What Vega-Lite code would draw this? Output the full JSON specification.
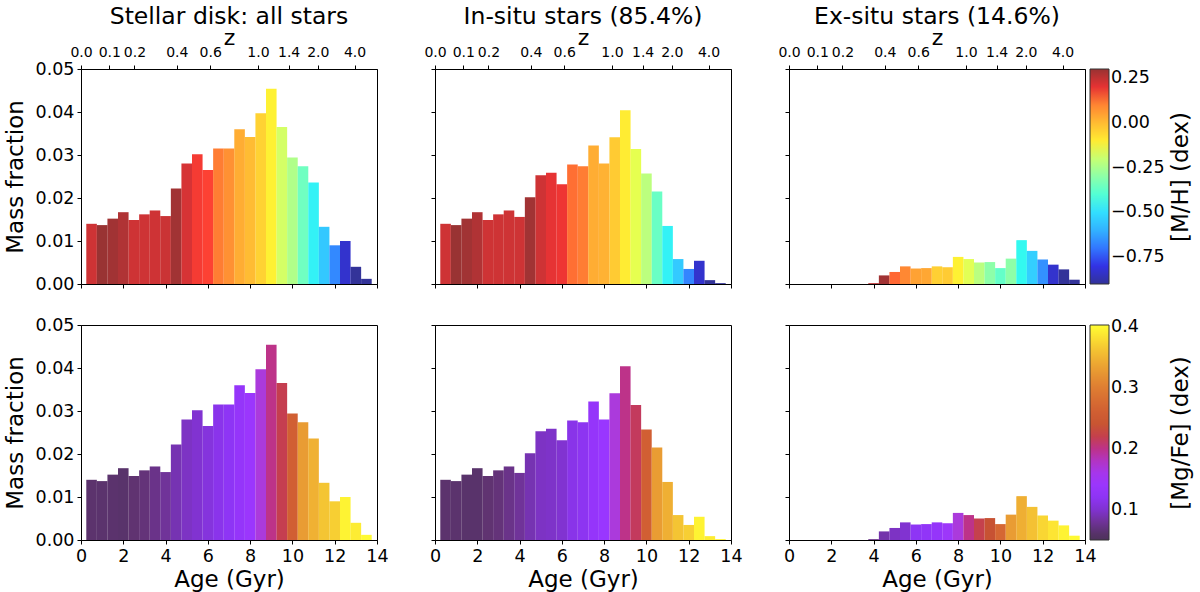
{
  "$schema": "https://vega.github.io/schema/vega-lite/v6.json",
  "padding": {"left": 3, "top": 4, "right": 2, "bottom": 2},
  "background": "white",
  "config": {
    "font": "DejaVu Sans",
    "view": {"stroke": "#000", "strokeWidth": 1},
    "axis": {
      "labelFont": "DejaVu Sans", "titleFont": "DejaVu Sans",
      "labelFontSize": 17.5, "titleFontSize": 23, "titleFontWeight": "normal",
      "labelColor": "#000", "titleColor": "#000", "tickColor": "#000", "domainColor": "#000",
      "tickSize": 4, "labelPadding": 3, "grid": false, "labelFlush": false, "labelOverlap": false
    },
    "title": {"font": "DejaVu Sans", "fontSize": 23.5, "fontWeight": "normal", "color": "#000", "offset": -2},
    "legend": {
      "orient": "right", "direction": "vertical", "offset": -103,
      "gradientLength": 215, "gradientThickness": 19,
      "gradientStrokeColor": "#000", "gradientStrokeWidth": 1,
      "labelFont": "DejaVu Sans", "labelFontSize": 17.5, "labelColor": "#000", "labelOffset": 9,
      "labelOverlap": false
    }
  },
  "data": {
    "values": [
      {"p": "all", "lo": 0.25, "hi": 0.75, "frac": 0.0140, "mh": 0.23, "mgfe": 0.064},
      {"p": "all", "lo": 0.75, "hi": 1.25, "frac": 0.0137, "mh": 0.30, "mgfe": 0.063},
      {"p": "all", "lo": 1.25, "hi": 1.75, "frac": 0.0152, "mh": 0.29, "mgfe": 0.063},
      {"p": "all", "lo": 1.75, "hi": 2.25, "frac": 0.0167, "mh": 0.27, "mgfe": 0.062},
      {"p": "all", "lo": 2.25, "hi": 2.75, "frac": 0.0149, "mh": 0.23, "mgfe": 0.067},
      {"p": "all", "lo": 2.75, "hi": 3.25, "frac": 0.0162, "mh": 0.23, "mgfe": 0.070},
      {"p": "all", "lo": 3.25, "hi": 3.75, "frac": 0.0171, "mh": 0.23, "mgfe": 0.075},
      {"p": "all", "lo": 3.75, "hi": 4.25, "frac": 0.0158, "mh": 0.235, "mgfe": 0.080},
      {"p": "all", "lo": 4.25, "hi": 4.75, "frac": 0.0222, "mh": 0.29, "mgfe": 0.088},
      {"p": "all", "lo": 4.75, "hi": 5.25, "frac": 0.0280, "mh": 0.22, "mgfe": 0.095},
      {"p": "all", "lo": 5.25, "hi": 5.75, "frac": 0.0302, "mh": 0.18, "mgfe": 0.100},
      {"p": "all", "lo": 5.75, "hi": 6.25, "frac": 0.0265, "mh": 0.17, "mgfe": 0.106},
      {"p": "all", "lo": 6.25, "hi": 6.75, "frac": 0.0315, "mh": 0.11, "mgfe": 0.114},
      {"p": "all", "lo": 6.75, "hi": 7.25, "frac": 0.0315, "mh": 0.08, "mgfe": 0.120},
      {"p": "all", "lo": 7.25, "hi": 7.75, "frac": 0.0360, "mh": 0.03, "mgfe": 0.130},
      {"p": "all", "lo": 7.75, "hi": 8.25, "frac": 0.0342, "mh": 0.00, "mgfe": 0.140},
      {"p": "all", "lo": 8.25, "hi": 8.75, "frac": 0.0397, "mh": -0.045, "mgfe": 0.170},
      {"p": "all", "lo": 8.75, "hi": 9.25, "frac": 0.0454, "mh": -0.11, "mgfe": 0.200},
      {"p": "all", "lo": 9.25, "hi": 9.75, "frac": 0.0365, "mh": -0.18, "mgfe": 0.219},
      {"p": "all", "lo": 9.75, "hi": 10.25, "frac": 0.0294, "mh": -0.24, "mgfe": 0.260},
      {"p": "all", "lo": 10.25, "hi": 10.75, "frac": 0.0274, "mh": -0.35, "mgfe": 0.330},
      {"p": "all", "lo": 10.75, "hi": 11.25, "frac": 0.0236, "mh": -0.47, "mgfe": 0.347},
      {"p": "all", "lo": 11.25, "hi": 11.75, "frac": 0.0133, "mh": -0.555, "mgfe": 0.363},
      {"p": "all", "lo": 11.75, "hi": 12.25, "frac": 0.0090, "mh": -0.675, "mgfe": 0.370},
      {"p": "all", "lo": 12.25, "hi": 12.75, "frac": 0.0100, "mh": -0.83, "mgfe": 0.395},
      {"p": "all", "lo": 12.75, "hi": 13.25, "frac": 0.0040, "mh": -0.90, "mgfe": 0.390},
      {"p": "all", "lo": 13.25, "hi": 13.75, "frac": 0.0012, "mh": -0.90, "mgfe": 0.400},
      {"p": "in", "lo": 0.25, "hi": 0.75, "frac": 0.0140, "mh": 0.23, "mgfe": 0.064},
      {"p": "in", "lo": 0.75, "hi": 1.25, "frac": 0.0137, "mh": 0.30, "mgfe": 0.063},
      {"p": "in", "lo": 1.25, "hi": 1.75, "frac": 0.0152, "mh": 0.29, "mgfe": 0.062},
      {"p": "in", "lo": 1.75, "hi": 2.25, "frac": 0.0167, "mh": 0.27, "mgfe": 0.062},
      {"p": "in", "lo": 2.25, "hi": 2.75, "frac": 0.0149, "mh": 0.23, "mgfe": 0.067},
      {"p": "in", "lo": 2.75, "hi": 3.25, "frac": 0.0162, "mh": 0.23, "mgfe": 0.070},
      {"p": "in", "lo": 3.25, "hi": 3.75, "frac": 0.0171, "mh": 0.23, "mgfe": 0.075},
      {"p": "in", "lo": 3.75, "hi": 4.25, "frac": 0.0156, "mh": 0.23, "mgfe": 0.080},
      {"p": "in", "lo": 4.25, "hi": 4.75, "frac": 0.0202, "mh": 0.29, "mgfe": 0.088},
      {"p": "in", "lo": 4.75, "hi": 5.25, "frac": 0.0253, "mh": 0.23, "mgfe": 0.095},
      {"p": "in", "lo": 5.25, "hi": 5.75, "frac": 0.0259, "mh": 0.20, "mgfe": 0.097},
      {"p": "in", "lo": 5.75, "hi": 6.25, "frac": 0.0232, "mh": 0.19, "mgfe": 0.100},
      {"p": "in", "lo": 6.25, "hi": 6.75, "frac": 0.0278, "mh": 0.13, "mgfe": 0.113},
      {"p": "in", "lo": 6.75, "hi": 7.25, "frac": 0.0274, "mh": 0.11, "mgfe": 0.118},
      {"p": "in", "lo": 7.25, "hi": 7.75, "frac": 0.0322, "mh": 0.03, "mgfe": 0.130},
      {"p": "in", "lo": 7.75, "hi": 8.25, "frac": 0.0280, "mh": 0.02, "mgfe": 0.138},
      {"p": "in", "lo": 8.25, "hi": 8.75, "frac": 0.0341, "mh": -0.03, "mgfe": 0.170},
      {"p": "in", "lo": 8.75, "hi": 9.25, "frac": 0.0404, "mh": -0.10, "mgfe": 0.200},
      {"p": "in", "lo": 9.25, "hi": 9.75, "frac": 0.0314, "mh": -0.15, "mgfe": 0.215},
      {"p": "in", "lo": 9.75, "hi": 10.25, "frac": 0.0257, "mh": -0.22, "mgfe": 0.260},
      {"p": "in", "lo": 10.25, "hi": 10.75, "frac": 0.0215, "mh": -0.36, "mgfe": 0.330},
      {"p": "in", "lo": 10.75, "hi": 11.25, "frac": 0.0135, "mh": -0.47, "mgfe": 0.345},
      {"p": "in", "lo": 11.25, "hi": 11.75, "frac": 0.0058, "mh": -0.55, "mgfe": 0.362},
      {"p": "in", "lo": 11.75, "hi": 12.25, "frac": 0.0035, "mh": -0.68, "mgfe": 0.370},
      {"p": "in", "lo": 12.25, "hi": 12.75, "frac": 0.0054, "mh": -0.83, "mgfe": 0.395},
      {"p": "in", "lo": 12.75, "hi": 13.25, "frac": 0.0009, "mh": -0.90, "mgfe": 0.390},
      {"p": "in", "lo": 13.25, "hi": 13.75, "frac": 0.0002, "mh": -0.90, "mgfe": 0.395},
      {"p": "ex", "lo": 3.75, "hi": 4.25, "frac": 0.0002, "mh": 0.25, "mgfe": 0.075},
      {"p": "ex", "lo": 4.25, "hi": 4.75, "frac": 0.0020, "mh": 0.29, "mgfe": 0.085},
      {"p": "ex", "lo": 4.75, "hi": 5.25, "frac": 0.0028, "mh": 0.14, "mgfe": 0.095},
      {"p": "ex", "lo": 5.25, "hi": 5.75, "frac": 0.0041, "mh": 0.095, "mgfe": 0.100},
      {"p": "ex", "lo": 5.75, "hi": 6.25, "frac": 0.0036, "mh": 0.05, "mgfe": 0.120},
      {"p": "ex", "lo": 6.25, "hi": 6.75, "frac": 0.0037, "mh": 0.04, "mgfe": 0.125},
      {"p": "ex", "lo": 6.75, "hi": 7.25, "frac": 0.0041, "mh": -0.04, "mgfe": 0.130},
      {"p": "ex", "lo": 7.25, "hi": 7.75, "frac": 0.0039, "mh": -0.03, "mgfe": 0.145},
      {"p": "ex", "lo": 7.75, "hi": 8.25, "frac": 0.0063, "mh": -0.11, "mgfe": 0.170},
      {"p": "ex", "lo": 8.25, "hi": 8.75, "frac": 0.0058, "mh": -0.156, "mgfe": 0.200},
      {"p": "ex", "lo": 8.75, "hi": 9.25, "frac": 0.0050, "mh": -0.223, "mgfe": 0.220},
      {"p": "ex", "lo": 9.25, "hi": 9.75, "frac": 0.0051, "mh": -0.30, "mgfe": 0.235},
      {"p": "ex", "lo": 9.75, "hi": 10.25, "frac": 0.0037, "mh": -0.37, "mgfe": 0.270},
      {"p": "ex", "lo": 10.25, "hi": 10.75, "frac": 0.0059, "mh": -0.30, "mgfe": 0.330},
      {"p": "ex", "lo": 10.75, "hi": 11.25, "frac": 0.0102, "mh": -0.46, "mgfe": 0.345},
      {"p": "ex", "lo": 11.25, "hi": 11.75, "frac": 0.0077, "mh": -0.54, "mgfe": 0.360},
      {"p": "ex", "lo": 11.75, "hi": 12.25, "frac": 0.0057, "mh": -0.66, "mgfe": 0.375},
      {"p": "ex", "lo": 12.25, "hi": 12.75, "frac": 0.0045, "mh": -0.83, "mgfe": 0.385},
      {"p": "ex", "lo": 12.75, "hi": 13.25, "frac": 0.0034, "mh": -0.90, "mgfe": 0.395},
      {"p": "ex", "lo": 13.25, "hi": 13.75, "frac": 0.0010, "mh": -0.90, "mgfe": 0.400}
    ]
  },
  "vconcat": [
    {
      "bounds": "flush",
      "spacing": 58,
      "resolve": {"scale": {"color": "shared"}},
      "hconcat": [
        {
          "width": 296, "height": 215,
          "title": "Stellar disk: all stars",
          "transform": [{"filter": "datum.p == 'all'"}],
          "layer": [
            {
              "mark": {"type": "bar", "opacity": 0.8},
              "encoding": {
                "x": {"field": "lo", "type": "quantitative", "scale": {"domain": [0, 14], "nice": false, "zero": false},
                      "axis": {"values": [0, 2, 4, 6, 8, 10, 12, 14], "labels": false, "title": null}},
                "x2": {"field": "hi"},
                "y": {"field": "frac", "type": "quantitative", "scale": {"domain": [0, 0.05], "nice": false},
                      "axis": {"values": [0, 0.01, 0.02, 0.03, 0.04, 0.05], "format": ".2f", "title": "Mass fraction", "titlePadding": 8}},
                "y2": {"datum": 0},
                "color": {"field": "mh", "type": "quantitative",
                          "scale": {"zero": false,
                                    "domain": [-0.9, -0.768, -0.75, -0.492, -0.45, -0.132, -0.12, -0.108, 0.168, 0.192, 0.3],
                                    "range": ["#000080", "#0000ff", "#0000ff", "#00dcff", "#14ffe2", "#eeff08", "#f7f500", "#ffec00", "#ff1300", "#e80000", "#800000"]},
                          "legend": {"title": null, "values": [-0.75, -0.5, -0.25, 0, 0.25], "format": ".2f"}}
              }
            },
            {
              "mark": {"type": "tick", "opacity": 0},
              "encoding": {
                "x": {"field": "lo", "type": "quantitative",
                      "axis": {"orient": "top", "values": [0, 1.34, 2.53, 4.53, 6.11, 8.37, 9.82, 11.2, 12.94],
                               "labelExpr": "datum.value < 0.5 ? '0.0' : datum.value < 2 ? '0.1' : datum.value < 3 ? '0.2' : datum.value < 5 ? '0.4' : datum.value < 7 ? '0.6' : datum.value < 9 ? '1.0' : datum.value < 10.5 ? '1.4' : datum.value < 12 ? '2.0' : '4.0'",
                               "labelFontSize": 14, "labelPadding": 6, "title": "z", "titleFontSize": 22, "titlePadding": -4}}
              }
            }
          ],
          "resolve": {"axis": {"x": "independent"}}
        },
        {
          "width": 296, "height": 215,
          "title": "In-situ stars (85.4%)",
          "transform": [{"filter": "datum.p == 'in'"}],
          "layer": [
            {
              "mark": {"type": "bar", "opacity": 0.8},
              "encoding": {
                "x": {"field": "lo", "type": "quantitative", "scale": {"domain": [0, 14], "nice": false, "zero": false},
                      "axis": {"values": [0, 2, 4, 6, 8, 10, 12, 14], "labels": false, "title": null}},
                "x2": {"field": "hi"},
                "y": {"field": "frac", "type": "quantitative", "scale": {"domain": [0, 0.05], "nice": false},
                      "axis": {"values": [0, 0.01, 0.02, 0.03, 0.04, 0.05], "labels": false, "title": null}},
                "y2": {"datum": 0},
                "color": {"field": "mh", "type": "quantitative",
                          "legend": {"title": null, "values": [-0.75, -0.5, -0.25, 0, 0.25], "format": ".2f"}}
              }
            },
            {
              "mark": {"type": "tick", "opacity": 0},
              "encoding": {
                "x": {"field": "lo", "type": "quantitative",
                      "axis": {"orient": "top", "values": [0, 1.34, 2.53, 4.53, 6.11, 8.37, 9.82, 11.2, 12.94],
                               "labelExpr": "datum.value < 0.5 ? '0.0' : datum.value < 2 ? '0.1' : datum.value < 3 ? '0.2' : datum.value < 5 ? '0.4' : datum.value < 7 ? '0.6' : datum.value < 9 ? '1.0' : datum.value < 10.5 ? '1.4' : datum.value < 12 ? '2.0' : '4.0'",
                               "labelFontSize": 14, "labelPadding": 6, "title": "z", "titleFontSize": 22, "titlePadding": -4}}
              }
            }
          ],
          "resolve": {"axis": {"x": "independent"}}
        },
        {
          "width": 296, "height": 215,
          "title": "Ex-situ stars (14.6%)",
          "transform": [{"filter": "datum.p == 'ex'"}],
          "layer": [
            {
              "mark": {"type": "bar", "opacity": 0.8},
              "encoding": {
                "x": {"field": "lo", "type": "quantitative", "scale": {"domain": [0, 14], "nice": false, "zero": false},
                      "axis": {"values": [0, 2, 4, 6, 8, 10, 12, 14], "labels": false, "title": null}},
                "x2": {"field": "hi"},
                "y": {"field": "frac", "type": "quantitative", "scale": {"domain": [0, 0.05], "nice": false},
                      "axis": {"values": [0, 0.01, 0.02, 0.03, 0.04, 0.05], "labels": false, "title": null}},
                "y2": {"datum": 0},
                "color": {"field": "mh", "type": "quantitative",
                          "legend": {"title": null, "values": [-0.75, -0.5, -0.25, 0, 0.25], "format": ".2f"}}
              }
            },
            {
              "mark": {"type": "tick", "opacity": 0},
              "encoding": {
                "x": {"field": "lo", "type": "quantitative",
                      "axis": {"orient": "top", "values": [0, 1.34, 2.53, 4.53, 6.11, 8.37, 9.82, 11.2, 12.94],
                               "labelExpr": "datum.value < 0.5 ? '0.0' : datum.value < 2 ? '0.1' : datum.value < 3 ? '0.2' : datum.value < 5 ? '0.4' : datum.value < 7 ? '0.6' : datum.value < 9 ? '1.0' : datum.value < 10.5 ? '1.4' : datum.value < 12 ? '2.0' : '4.0'",
                               "labelFontSize": 14, "labelPadding": 6, "title": "z", "titleFontSize": 22, "titlePadding": -4}},
                "y": {"field": "frac", "type": "quantitative",
                      "axis": {"orient": "right", "ticks": false, "labels": false, "domain": false,
                               "title": "[M/H] (dex)", "titleAngle": 270, "titleBaseline": "top", "titlePadding": 84}}
              }
            }
          ],
          "resolve": {"axis": {"x": "independent", "y": "independent"}}
        }
      ]
    },
    {
      "bounds": "flush",
      "spacing": 58,
      "resolve": {"scale": {"color": "shared"}},
      "hconcat": [
        {
          "width": 296, "height": 215,
          "transform": [{"filter": "datum.p == 'all'"}],
          "mark": {"type": "bar", "opacity": 0.8},
          "encoding": {
            "x": {"field": "lo", "type": "quantitative", "scale": {"domain": [0, 14], "nice": false, "zero": false},
                  "axis": {"values": [0, 2, 4, 6, 8, 10, 12, 14], "title": "Age (Gyr)", "titlePadding": 4}},
            "x2": {"field": "hi"},
            "y": {"field": "frac", "type": "quantitative", "scale": {"domain": [0, 0.05], "nice": false},
                  "axis": {"values": [0, 0.01, 0.02, 0.03, 0.04, 0.05], "format": ".2f", "title": "Mass fraction", "titlePadding": 8}},
            "y2": {"datum": 0},
            "color": {"field": "mgfe", "type": "quantitative",
                      "scale": {"zero": false,
                                "domain": [0.05, 0.0675, 0.085, 0.1025, 0.12, 0.1375, 0.155, 0.1725, 0.19, 0.2075, 0.225, 0.26, 0.295, 0.33, 0.365, 0.403],
                                "range": ["#000000", "#39004f", "#510096", "#6301ce", "#7202f2", "#8004ff", "#8b07f2", "#970bce", "#a11096", "#ab174f", "#b42000", "#c53700", "#d55700", "#e48300", "#f2ba00", "#ffff00"]},
                      "legend": {"title": null, "values": [0.1, 0.2, 0.3, 0.4], "format": ".1f"}}
          }
        },
        {
          "width": 296, "height": 215,
          "transform": [{"filter": "datum.p == 'in'"}],
          "mark": {"type": "bar", "opacity": 0.8},
          "encoding": {
            "x": {"field": "lo", "type": "quantitative", "scale": {"domain": [0, 14], "nice": false, "zero": false},
                  "axis": {"values": [0, 2, 4, 6, 8, 10, 12, 14], "title": "Age (Gyr)", "titlePadding": 4}},
            "x2": {"field": "hi"},
            "y": {"field": "frac", "type": "quantitative", "scale": {"domain": [0, 0.05], "nice": false},
                  "axis": {"values": [0, 0.01, 0.02, 0.03, 0.04, 0.05], "labels": false, "title": null}},
            "y2": {"datum": 0},
            "color": {"field": "mgfe", "type": "quantitative",
                      "legend": {"title": null, "values": [0.1, 0.2, 0.3, 0.4], "format": ".1f"}}
          }
        },
        {
          "width": 296, "height": 215,
          "transform": [{"filter": "datum.p == 'ex'"}],
          "layer": [
            {
              "mark": {"type": "bar", "opacity": 0.8},
              "encoding": {
                "x": {"field": "lo", "type": "quantitative", "scale": {"domain": [0, 14], "nice": false, "zero": false},
                      "axis": {"values": [0, 2, 4, 6, 8, 10, 12, 14], "title": "Age (Gyr)", "titlePadding": 4}},
                "x2": {"field": "hi"},
                "y": {"field": "frac", "type": "quantitative", "scale": {"domain": [0, 0.05], "nice": false},
                      "axis": {"values": [0, 0.01, 0.02, 0.03, 0.04, 0.05], "labels": false, "title": null}},
                "y2": {"datum": 0},
                "color": {"field": "mgfe", "type": "quantitative",
                          "legend": {"title": null, "values": [0.1, 0.2, 0.3, 0.4], "format": ".1f"}}
              }
            },
            {
              "mark": {"type": "tick", "opacity": 0},
              "encoding": {
                "y": {"field": "frac", "type": "quantitative",
                      "axis": {"orient": "right", "ticks": false, "labels": false, "domain": false,
                               "title": "[Mg/Fe] (dex)", "titleAngle": 270, "titleBaseline": "top", "titlePadding": 84}}
              }
            }
          ],
          "resolve": {"axis": {"y": "independent"}}
        }
      ]
    }
  ],
  "spacing": 22,
  "resolve": {"scale": {"color": "independent"}}
}
